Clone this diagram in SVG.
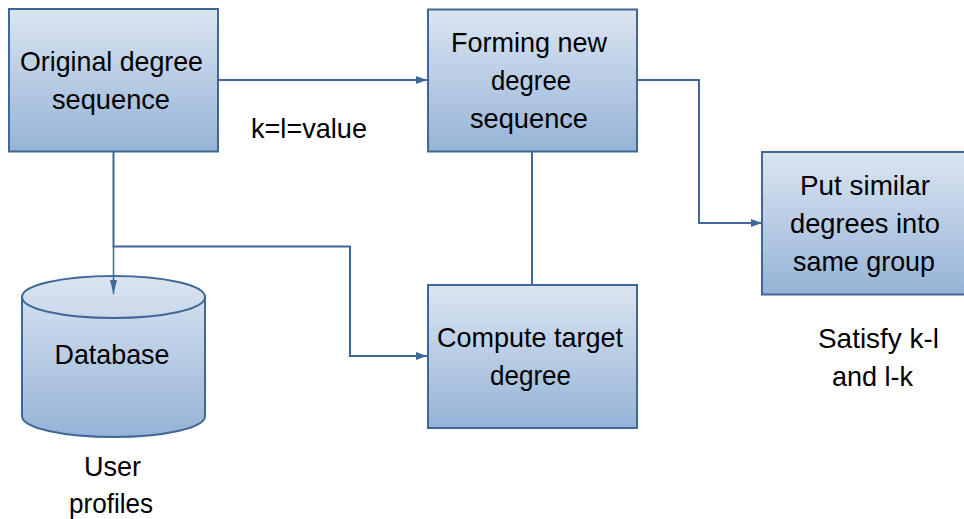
<svg xmlns="http://www.w3.org/2000/svg" width="964" height="519" viewBox="0 0 964 519">
<style>
.n{stroke:#3f6797;stroke-width:2}
.b{fill:url(#g)}
.t{font-family:"Liberation Sans",Arial,sans-serif;font-size:28.5px;fill:#000;text-anchor:middle}
.c{fill:none;stroke:#3f6797;stroke-width:2}
</style>
<defs>
<linearGradient id="g" x1="0" y1="0" x2="0" y2="1"><stop offset="0" stop-color="#dbe5f1"/><stop offset="1" stop-color="#95b3d7"/></linearGradient>
<marker id="a" markerUnits="userSpaceOnUse" markerWidth="12" markerHeight="10" refX="11" refY="4" orient="auto"><path d="M0 0L11 4L0 8z" fill="#3f6797"/></marker>
<marker id="d" markerUnits="userSpaceOnUse" markerWidth="15" markerHeight="8" refX="14" refY="3.500" orient="auto"><path d="M0 0L14 3.500L0 7z" fill="#3f6797"/></marker>
</defs>
<rect width="964" height="519" fill="#fff"/>
<g id="original"><rect class="n b" x="9" y="9" width="209" height="142.500"/><text class="t" x="111.500" y="71" textLength="183" lengthAdjust="spacingAndGlyphs">Original degree</text><text class="t" x="111" y="109" textLength="118" lengthAdjust="spacingAndGlyphs">sequence</text></g>
<g id="forming"><rect class="n b" x="428" y="9.500" width="209" height="142"/><text class="t" x="529" y="52" textLength="156" lengthAdjust="spacingAndGlyphs">Forming new</text><text class="t" x="531" y="90" textLength="80" lengthAdjust="spacingAndGlyphs">degree</text><text class="t" x="529" y="128" textLength="118" lengthAdjust="spacingAndGlyphs">sequence</text></g>
<g id="put"><rect class="n b" x="762" y="152" width="203" height="142.500"/><text class="t" x="865" y="195" textLength="130" lengthAdjust="spacingAndGlyphs">Put similar</text><text class="t" x="865" y="233" textLength="150" lengthAdjust="spacingAndGlyphs">degrees into</text><text class="t" x="864" y="271" textLength="142" lengthAdjust="spacingAndGlyphs">same group</text></g>
<g id="compute"><rect class="n b" x="428" y="285" width="209" height="143"/><text class="t" x="530" y="347" textLength="186" lengthAdjust="spacingAndGlyphs">Compute target</text><text class="t" x="530.500" y="385" textLength="81" lengthAdjust="spacingAndGlyphs">degree</text></g>
<g id="database"><path class="n b" d="M22 297V416C22 428 63 437 113.500 437S205 428 205 416V297C205 285 164 276 113.500 276S22 285 22 297Z"/><path class="n" fill="none" d="M22 297C22 309 63 318 113.500 318S205 309 205 297"/><text class="t" x="112" y="364" textLength="115" lengthAdjust="spacingAndGlyphs">Database</text></g>
<g id="labels"><text class="t" x="309" y="138" textLength="116" lengthAdjust="spacingAndGlyphs">k=l=value</text><text class="t" x="878.500" y="348" textLength="121" lengthAdjust="spacingAndGlyphs">Satisfy k-l</text><text class="t" x="872.500" y="386" textLength="81" lengthAdjust="spacingAndGlyphs">and l-k</text><text class="t" x="112.500" y="476" textLength="57" lengthAdjust="spacingAndGlyphs">User</text><text class="t" x="111" y="513" textLength="84" lengthAdjust="spacingAndGlyphs">profiles</text></g>
<g id="connectors">
<path class="c" d="M219 80H427" marker-end="url(#a)"/>
<path class="c" d="M637 80H699V223H762" marker-end="url(#a)"/>
<path class="c" d="M113.500 152V246.500H350V356H427" marker-end="url(#a)"/>
<path class="c" style="stroke-width:1.500" d="M113.500 246V294" marker-end="url(#d)"/>
<path class="c" d="M532 152V285"/>
</g>
</svg>
